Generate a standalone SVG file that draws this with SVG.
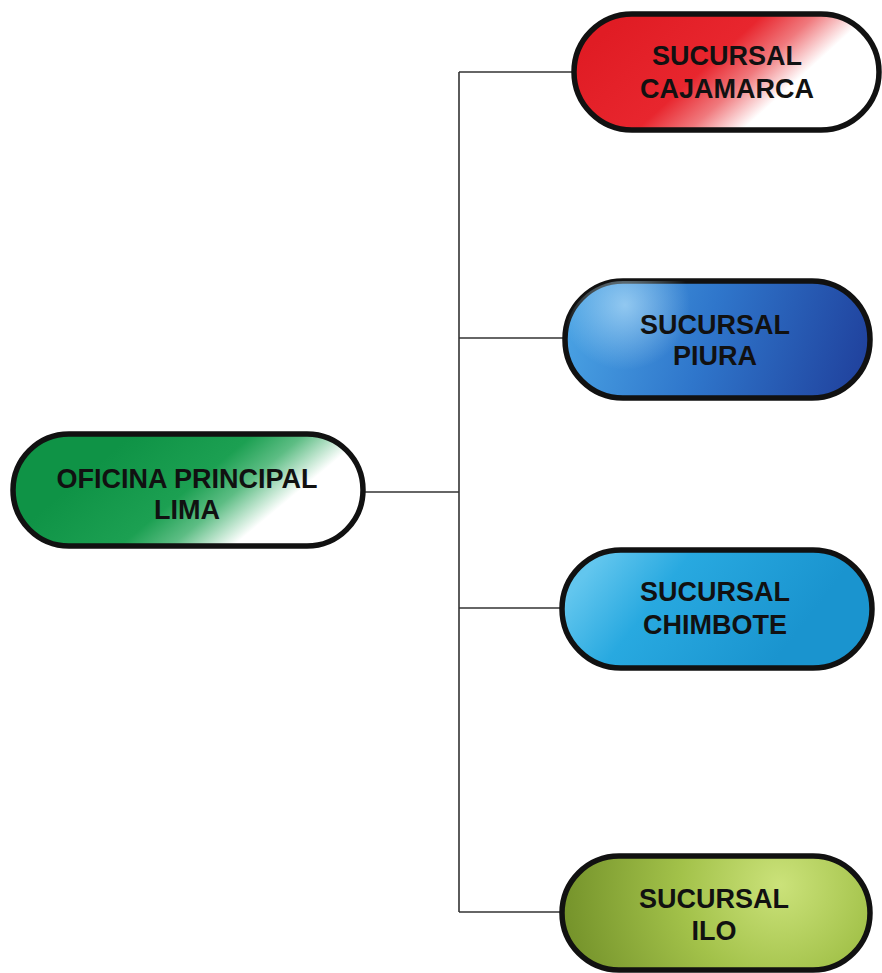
<svg xmlns="http://www.w3.org/2000/svg" width="882" height="973" viewBox="0 0 882 973">
  <defs>
    <style>
      .pill { stroke: #111; stroke-width: 5.5; }
      .lbl { font-family: "Liberation Sans", Arial, sans-serif; font-weight: bold; font-size: 27px; fill: #111; text-anchor: middle; }
      .wire { stroke: #333; stroke-width: 1.6; fill: none; }
    </style>
    <linearGradient id="gLima" gradientUnits="userSpaceOnUse" x1="150" y1="420" x2="300" y2="600">
      <stop offset="0" stop-color="#0f9346"/>
      <stop offset="0.33" stop-color="#1ca052"/>
      <stop offset="0.47" stop-color="#5dbd84"/>
      <stop offset="0.64" stop-color="#ffffff"/>
    </linearGradient>
    <linearGradient id="gCaja" gradientUnits="userSpaceOnUse" x1="640" y1="0" x2="790" y2="165">
      <stop offset="0" stop-color="#e01c24"/>
      <stop offset="0.42" stop-color="#e8262e"/>
      <stop offset="0.58" stop-color="#f0797d"/>
      <stop offset="0.74" stop-color="#ffffff"/>
    </linearGradient>
    <linearGradient id="gPiura" gradientUnits="userSpaceOnUse" x1="570" y1="300" x2="870" y2="390">
      <stop offset="0" stop-color="#4aa3e4"/>
      <stop offset="0.45" stop-color="#2f76cb"/>
      <stop offset="1" stop-color="#1f3e9a"/>
    </linearGradient>
    <radialGradient id="hPiura" gradientUnits="userSpaceOnUse" cx="625" cy="305" r="65">
      <stop offset="0" stop-color="#c8ecff" stop-opacity="0.6"/>
      <stop offset="1" stop-color="#c8ecff" stop-opacity="0"/>
    </radialGradient>
    <linearGradient id="gChim" gradientUnits="userSpaceOnUse" x1="600" y1="555" x2="760" y2="680">
      <stop offset="0" stop-color="#62c6ee"/>
      <stop offset="0.35" stop-color="#28a9e0"/>
      <stop offset="1" stop-color="#1a94cf"/>
    </linearGradient>
    <radialGradient id="gIlo" gradientUnits="userSpaceOnUse" cx="780" cy="885" r="220">
      <stop offset="0" stop-color="#cbe27a"/>
      <stop offset="0.45" stop-color="#a3c24a"/>
      <stop offset="1" stop-color="#74922a"/>
    </radialGradient>
  </defs>

  <rect width="882" height="973" fill="#ffffff"/>

  <!-- connectors: trunk plus branches -->
  <g id="connectors">
    <line class="wire" x1="459" y1="72" x2="459" y2="912"/>
    <line class="wire" x1="363" y1="492" x2="459" y2="492"/>
    <line class="wire" x1="459" y1="72" x2="575" y2="72"/>
    <line class="wire" x1="459" y1="338" x2="565" y2="338"/>
    <line class="wire" x1="459" y1="608" x2="562" y2="608"/>
    <line class="wire" x1="459" y1="912" x2="562" y2="912"/>
  </g>

  <g id="lima">
    <rect class="pill" x="13" y="434" width="350" height="112" rx="56" fill="url(#gLima)"/>
    <text class="lbl" x="187" y="488">OFICINA PRINCIPAL</text>
    <text class="lbl" x="187" y="519">LIMA</text>
  </g>

  <g id="cajamarca">
    <rect class="pill" x="574" y="14" width="305" height="116" rx="58" fill="url(#gCaja)"/>
    <text class="lbl" x="727" y="65">SUCURSAL</text>
    <text class="lbl" x="727" y="98">CAJAMARCA</text>
  </g>

  <g id="piura">
    <rect class="pill" x="565" y="281" width="305" height="117" rx="58" fill="url(#gPiura)"/>
    <rect x="565" y="281" width="305" height="117" rx="58" fill="url(#hPiura)"/>
    <text class="lbl" x="715" y="334">SUCURSAL</text>
    <text class="lbl" x="715" y="365">PIURA</text>
  </g>

  <g id="chimbote">
    <rect class="pill" x="562" y="550" width="310" height="118" rx="59" fill="url(#gChim)"/>
    <text class="lbl" x="715" y="601">SUCURSAL</text>
    <text class="lbl" x="715" y="634">CHIMBOTE</text>
  </g>

  <g id="ilo">
    <rect class="pill" x="562" y="856" width="308" height="114" rx="57" fill="url(#gIlo)"/>
    <text class="lbl" x="714" y="908">SUCURSAL</text>
    <text class="lbl" x="714" y="940">ILO</text>
  </g>
</svg>
